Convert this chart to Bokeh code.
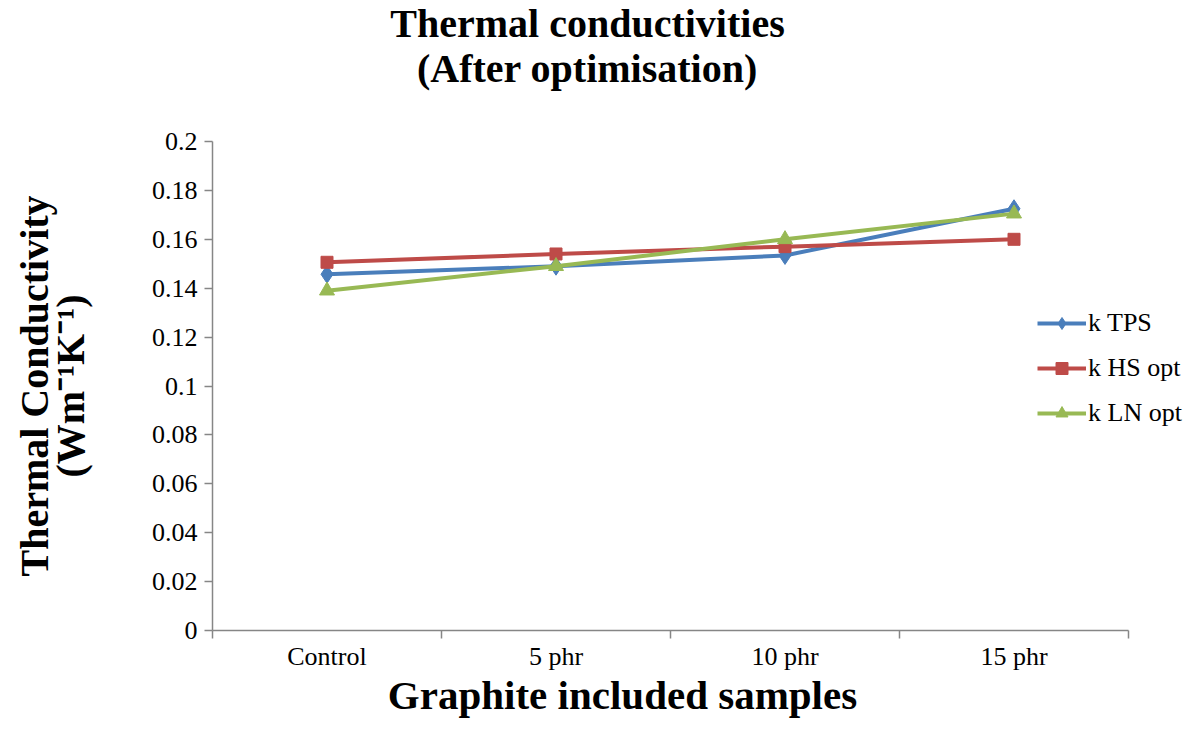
from bokeh.plotting import figure
from bokeh.models import FixedTicker, Label, Legend, LegendItem
from bokeh.layouts import column
from bokeh.embed import file_html
from bokeh.resources import INLINE

# ---- data ----
categories = ["Control", "5 phr", "10 phr", "15 phr"]
k_tps = [0.1457, 0.149, 0.1534, 0.1725]
k_hs = [0.1506, 0.154, 0.157, 0.160]
k_ln = [0.139, 0.149, 0.160, 0.1705]
series_names = ["k TPS", "k HS opt", "k LN opt"]
y_ticks = [0, 0.02, 0.04, 0.06, 0.08, 0.1, 0.12, 0.14, 0.16, 0.18, 0.2]
y_tick_labels = ["0", "0.02", "0.04", "0.06", "0.08", "0.1", "0.12", "0.14", "0.16", "0.18", "0.2"]
title_lines = ["Thermal conductivities", "(After optimisation)"]
x_title = "Graphite included samples"
y_title = "Thermal Conductivity\n(Wm\u207b\u00b9K\u207b\u00b9)"

SERIF = "Liberation Serif"
AXIS_GREY = "#868686"

# ---- layout (page pixels) ----
W, H = 1183, 719
TITLE_H = 124               # title strip height
FL, FT, FB = 212, 141, 630  # plot frame left / top / bottom
AXIS_RIGHT = 1128           # right end of the category axis
MAIN_BOTTOM = 673           # bottom of the main figure (x tick labels included)
XLAB_H = H - MAIN_BOTTOM    # x-title strip height
BASE_CORR = 15.5 / 40       # label baseline correction per px of font size

n = len(categories)
xs = [i + 0.5 for i in range(n)]
x_end = n * (W - FL) / (AXIS_RIGHT - FL)   # frame runs to the page edge (room for legend)


def text_strip(height):
    f = figure(width=W, height=height, x_range=(0, 1), y_range=(0, 1),
               output_backend="svg", toolbar_location=None,
               x_axis_location=None, y_axis_location=None,
               min_border=0, min_border_left=0, min_border_right=0,
               min_border_top=0, min_border_bottom=0)
    f.outline_line_color = None
    f.grid.visible = False
    return f


def strip_label(fig, height, text, cx, baseline, size):
    # strip frames are aligned with the main frame (left edge at FL)
    fig.add_layout(Label(x=cx - FL, y=height - baseline + BASE_CORR * size,
                         x_units="screen", y_units="screen", text=text,
                         text_align="center", text_baseline="alphabetic",
                         text_font=SERIF, text_font_size=f"{size}px",
                         text_font_style="bold", text_color="black"))


# title strip
pt = text_strip(TITLE_H)
for txt, base in zip(title_lines, [38, 83]):
    strip_label(pt, TITLE_H, txt, 587, base, 40)

# main plot
main_h = MAIN_BOTTOM - TITLE_H
p = figure(width=W, height=main_h, x_range=(0, x_end), y_range=(0, 0.2),
           output_backend="svg", toolbar_location=None,
           min_border_left=FL, min_border_right=0,
           min_border_top=FT - TITLE_H, min_border_bottom=MAIN_BOTTOM - FB)
p.outline_line_color = None
p.grid.visible = False

xa = p.xaxis[0]
xa.bounds = (0, n)
xa.ticker = FixedTicker(ticks=xs, minor_ticks=list(range(n + 1)))
xa.major_label_overrides = {x: c for x, c in zip(xs, categories)}
xa.major_tick_out = 0
xa.major_tick_in = 0
xa.minor_tick_out = 8
xa.minor_tick_in = 0
xa.minor_tick_line_color = AXIS_GREY
xa.minor_tick_line_width = 1.5
xa.axis_line_color = AXIS_GREY
xa.axis_line_width = 1.5
xa.major_label_text_font = SERIF
xa.major_label_text_font_size = "26px"
xa.major_label_text_color = "black"
xa.major_label_standoff = 3

ya = p.yaxis[0]
ya.ticker = FixedTicker(ticks=y_ticks, minor_ticks=[])
ya.major_label_overrides = {t: l for t, l in zip(y_ticks, y_tick_labels)}
ya.major_tick_out = 8
ya.major_tick_in = 0
ya.minor_tick_out = 0
ya.minor_tick_in = 0
ya.major_tick_line_color = AXIS_GREY
ya.major_tick_line_width = 1.5
ya.axis_line_color = AXIS_GREY
ya.axis_line_width = 1.5
ya.major_label_text_font = SERIF
ya.major_label_text_font_size = "26px"
ya.major_label_text_color = "black"
ya.major_label_standoff = 7
ya.axis_label = y_title
ya.axis_label_text_font = SERIF
ya.axis_label_text_font_size = "40px"
ya.axis_label_text_font_style = "bold"
ya.axis_label_text_color = "black"
ya.axis_label_text_line_height = 0.8
ya.axis_label_standoff = 56

colors = ["#4A7EBB", "#BE4B48", "#98B954"]
markers = ["diamond", "square", "triangle"]
sizes = [18, 12, 15]
items = []
for vals, name, col, mk, sz in zip([k_tps, k_hs, k_ln], series_names, colors, markers, sizes):
    r1 = p.line(xs, vals, line_color=col, line_width=4)
    r2 = p.scatter(xs, vals, marker=mk, size=sz, fill_color=col, line_color=col)
    items.append(LegendItem(label=name, renderers=[r1, r2]))

legend = Legend(items=items, location=(825, 202), orientation="vertical",
                glyph_width=49, glyph_height=30, label_height=30, spacing=15,
                label_standoff=2, padding=0, margin=0,
                border_line_alpha=0, background_fill_alpha=0,
                label_text_font=SERIF, label_text_font_size="26px",
                label_text_color="black")
p.add_layout(legend)

# x-title strip
px = text_strip(XLAB_H)
strip_label(px, XLAB_H, x_title, 622, 710 - MAIN_BOTTOM, 41)

layout = column(pt, p, px, spacing=0)
open("out.html", "w").write(file_html(layout, INLINE))
